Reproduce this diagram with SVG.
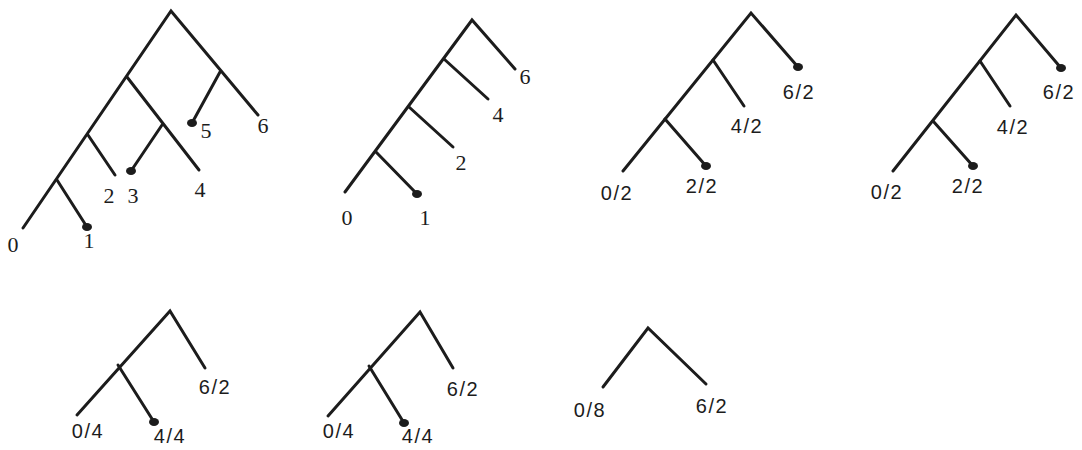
<svg xmlns="http://www.w3.org/2000/svg" width="1082" height="450" viewBox="0 0 1082 450">
<style>
.e{stroke:#1c1c1c;stroke-width:3;fill:none;stroke-linecap:round;stroke-linejoin:miter}
.d{fill:#1c1c1c}
.s{font-family:"Liberation Serif",serif;font-size:22px;fill:#1c1c1c;text-anchor:middle}
.g{font-family:"Liberation Sans",sans-serif;font-size:20px;fill:#1c1c1c;text-anchor:middle;letter-spacing:1.5px}
</style>
<rect width="1082" height="450" fill="#ffffff"/>
<g id="connectors">
<path class="e" d="M23,228 L171,11 L258,115"/>
<path class="e" d="M220,72 L192,123"/>
<path class="e" d="M127,77 L199,170"/>
<path class="e" d="M162,125 L131,171"/>
<path class="e" d="M88,135 L115,175"/>
<path class="e" d="M57,180 L87,227"/>
<path class="e" d="M345,192 L472,20 L515,69"/>
<path class="e" d="M444,59 L488,99"/>
<path class="e" d="M409,107 L453,147"/>
<path class="e" d="M376,152 L417,194"/>
<path class="e" d="M623,171 L751,13 L798,67"/>
<path class="e" d="M713,60 L744,106"/>
<path class="e" d="M665,119 L706,166"/>
<path class="e" d="M893,171 L1016,15 L1061,68"/>
<path class="e" d="M980,61 L1010,106"/>
<path class="e" d="M933,121 L973,166"/>
<path class="e" d="M77,415 L170,311 L205,368"/>
<path class="e" d="M118,365 L154,422"/>
<path class="e" d="M328,416 L420,312 L453,368"/>
<path class="e" d="M369,366 L404,423"/>
<path class="e" d="M603,387 L648,328 L706,384"/>
</g>
<g id="dots">
<ellipse class="d" cx="192" cy="123" rx="5" ry="4"/>
<ellipse class="d" cx="131" cy="171" rx="5" ry="4"/>
<ellipse class="d" cx="87" cy="227" rx="5" ry="4"/>
<ellipse class="d" cx="417" cy="194" rx="5" ry="4"/>
<ellipse class="d" cx="798" cy="67" rx="5" ry="4"/>
<ellipse class="d" cx="706" cy="166" rx="5" ry="4"/>
<ellipse class="d" cx="1061" cy="68" rx="5" ry="4"/>
<ellipse class="d" cx="973" cy="166" rx="5" ry="4"/>
<ellipse class="d" cx="154" cy="422" rx="5" ry="4"/>
<ellipse class="d" cx="404" cy="423" rx="5" ry="4"/>
</g>
<g id="tree1">
<text class="s" x="13" y="252">0</text>
<text class="s" x="89" y="248">1</text>
<text class="s" x="109" y="203">2</text>
<text class="s" x="133" y="203">3</text>
<text class="s" x="200" y="197">4</text>
<text class="s" x="206" y="138">5</text>
<text class="s" x="263" y="133">6</text>
</g>
<g id="tree2">
<text class="s" x="347" y="225">0</text>
<text class="s" x="425" y="225">1</text>
<text class="s" x="461" y="170">2</text>
<text class="s" x="498" y="122">4</text>
<text class="s" x="525" y="84">6</text>
</g>
<g id="tree3">
<text class="g" x="617" y="200">0/2</text>
<text class="g" x="702" y="193">2/2</text>
<text class="g" x="747" y="133">4/2</text>
<text class="g" x="799" y="99">6/2</text>
</g>
<g id="tree4">
<text class="g" x="887" y="199">0/2</text>
<text class="g" x="968" y="193">2/2</text>
<text class="g" x="1013" y="134">4/2</text>
<text class="g" x="1059" y="99">6/2</text>
</g>
<g id="tree5">
<text class="g" x="88" y="438">0/4</text>
<text class="g" x="170" y="443">4/4</text>
<text class="g" x="215" y="394">6/2</text>
</g>
<g id="tree6">
<text class="g" x="339" y="438">0/4</text>
<text class="g" x="418" y="443">4/4</text>
<text class="g" x="463" y="396">6/2</text>
</g>
<g id="tree7">
<text class="g" x="590" y="417">0/8</text>
<text class="g" x="712" y="413">6/2</text>
</g>
</svg>
